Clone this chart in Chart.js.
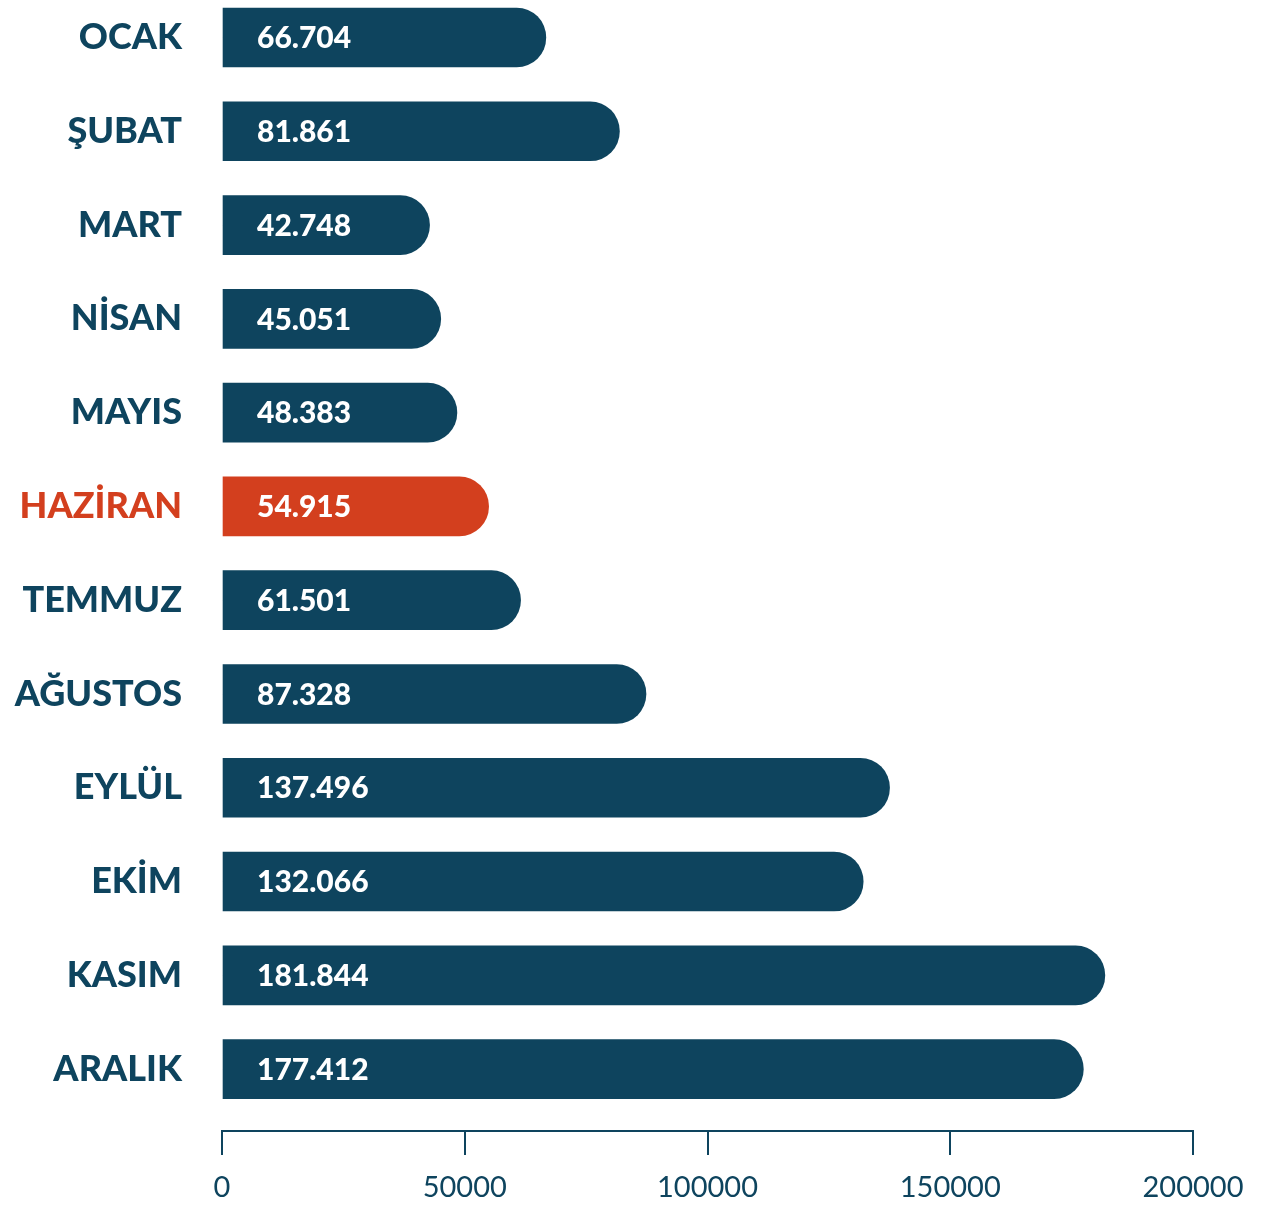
<!DOCTYPE html>
<html>
<head>
<meta charset="utf-8">
<script src="https://cdn.jsdelivr.net/npm/chart.js@4.4.0/dist/chart.umd.min.js"></script>
<style>
  html, body { margin: 0; padding: 0; background: #fff; }
  #wrap { width: 1263px; height: 1208px; position: relative; }
</style>
</head>
<body>
<div id="wrap"><canvas id="monthChart"></canvas></div>
<script>
// data
const months = ['OCAK', 'ŞUBAT', 'MART', 'NİSAN', 'MAYIS', 'HAZİRAN', 'TEMMUZ', 'AĞUSTOS', 'EYLÜL', 'EKİM', 'KASIM', 'ARALIK'];
const counts = [66704, 81861, 42748, 45051, 48383, 54915, 61501, 87328, 137496, 132066, 181844, 177412];
const highlightMonth = 'HAZİRAN';
const xTicks = [0, 50000, 100000, 150000, 200000];

const NAVY = '#0E445E';
const ORANGE = '#D33F1E';
const FONT = 'Lato, "Open Sans", sans-serif';

// 66704 -> "66.704"
function fmt(v) {
  return String(v).replace(/\B(?=(\d{3})+(?!\d))/g, '.');
}

const colorFor = i => months[i] === highlightMonth ? ORANGE : NAVY;

// white value text inside each bar
const valueLabels = {
  id: 'valueLabels',
  afterDatasetsDraw(chart) {
    const ctx = chart.ctx;
    const meta = chart.getDatasetMeta(0);
    ctx.save();
    ctx.fillStyle = '#fff';
    ctx.font = '900 30px ' + FONT;
    ctx.textBaseline = 'middle';
    ctx.textAlign = 'left';
    meta.data.forEach((bar, i) => {
      ctx.fillText(fmt(counts[i]), chart.chartArea.left + 35, bar.y + 1);
    });
    ctx.restore();
  }
};

new Chart(document.getElementById('monthChart'), {
  type: 'bar',
  data: {
    datasets: [{
      data: counts.map((v, i) => ({ x: v, y: i })),
      backgroundColor: counts.map((v, i) => colorFor(i)),
      borderRadius: 30,
      borderSkipped: 'start',
      barThickness: 59
    }]
  },
  options: {
    indexAxis: 'y',
    responsive: true,
    maintainAspectRatio: false,
    animation: false,
    layout: { padding: { top: 0, right: 70, bottom: 0, left: 0 } },
    plugins: { legend: { display: false }, tooltip: { enabled: false } },
    scales: {
      y: {
        type: 'linear',
        reverse: true,
        offset: false,
        min: -0.4,
        max: 11.66,
        afterBuildTicks: s => { s.ticks = months.map((m, i) => ({ value: i })); },
        afterFit: s => { s.width = 222; s.paddingTop = 0; s.paddingBottom = 0; },
        grid: { display: false, drawTicks: false },
        border: { display: false },
        ticks: {
          padding: 40,
          font: { family: FONT, size: 36, weight: '900' },
          color: c => colorFor(c.index),
          callback: v => months[v]
        }
      },
      x: {
        type: 'linear',
        position: 'bottom',
        min: 0,
        max: 200000,
        afterBuildTicks: s => { s.ticks = xTicks.map(v => ({ value: v })); },
        afterFit: s => { s.height = 77; s.paddingLeft = 0; s.paddingRight = 0; },
        grid: { drawOnChartArea: false, drawTicks: true, tickLength: 24, color: NAVY, lineWidth: 2 },
        border: { display: true, color: NAVY, width: 2 },
        ticks: {
          padding: 15,
          maxRotation: 0,
          font: { family: FONT, size: 29 },
          color: NAVY,
          callback: v => String(v)
        }
      }
    }
  },
  plugins: [valueLabels]
});
</script>
</body>
</html>
